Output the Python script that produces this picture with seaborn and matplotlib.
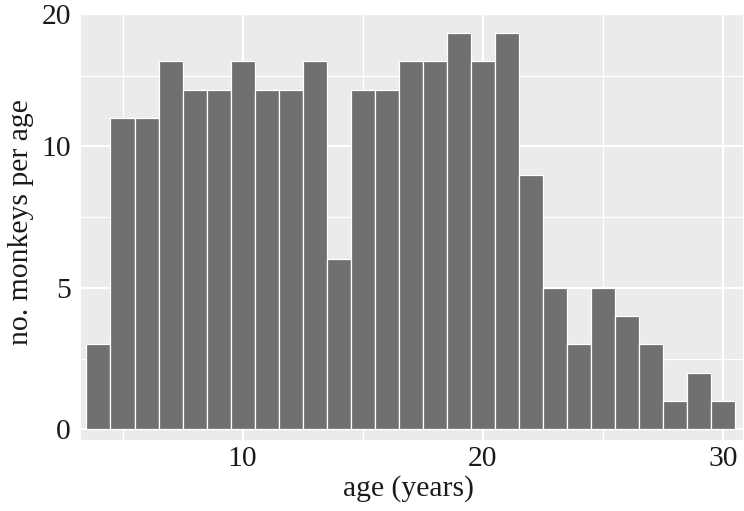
import matplotlib
matplotlib.use("Agg")
import matplotlib.pyplot as plt
import seaborn as sns
import pandas as pd
from matplotlib.ticker import MultipleLocator

# data
ages = [4, 5, 6, 7, 8, 9, 10, 11, 12, 13, 14, 15, 16, 17, 18, 19, 20, 21, 22,
        23, 24, 25, 26, 27, 28, 29, 30]
counts = [3, 11, 11, 13, 12, 12, 13, 12, 12, 13, 6, 12, 12, 13, 13, 14, 13, 14,
          9, 5, 3, 5, 4, 3, 1, 2, 1]
x_ticks = [10, 20, 30]
x_tick_labels = ["10", "20", "30"]
y_ticks = [0, 5, 10, 14.67]
y_tick_labels = ["0", "5", "10", "20"]
x_title = "age (years)"
y_title = "no. monkeys per age"

df = pd.DataFrame({"age": ages, "count": counts})

sns.set_theme(style="darkgrid", rc={
    "axes.facecolor": "#EBEBEB",
    "grid.color": "white",
    "axes.edgecolor": "#EBEBEB",
})
plt.rcParams["font.family"] = ["Liberation Serif", "DejaVu Serif"]

fig = plt.figure(figsize=(7.44, 5.11), dpi=100)
ax = fig.add_axes([80.7 / 744, 1 - 440 / 511, (743 - 80.7) / 744, (440 - 14) / 511])

sns.barplot(data=df, x="age", y="count", native_scale=True, width=1.0,
            color="#707070", saturation=1, edgecolor="white", linewidth=0.9,
            zorder=3, ax=ax)

ax.set_xlim(3.26, 30.82)
ax.set_ylim(-0.38, 14.675)
ax.set_xticks(x_ticks)
ax.set_xticklabels(x_tick_labels)
ax.set_yticks(y_ticks)
ax.set_yticklabels(y_tick_labels)
ax.xaxis.set_minor_locator(MultipleLocator(5))
ax.yaxis.set_minor_locator(MultipleLocator(2.5))
ax.grid(which="major", color="white", linewidth=1.6)
ax.grid(which="minor", color="white", linewidth=0.8)
ax.set_axisbelow(True)
for s in ax.spines.values():
    s.set_visible(False)

ax.tick_params(axis="both", which="both", length=0, labelsize=21.3, colors="#1a1a1a")
ax.tick_params(axis="x", pad=4)
ax.tick_params(axis="y", pad=7)

ax.set_xlabel(x_title, fontsize=21.3, color="#1a1a1a")
ax.set_ylabel(y_title, fontsize=21.3, color="#1a1a1a")
ax.xaxis.set_label_coords(0.5 + (408.5 - (80.7 + 743) / 2) / 662.3, -0.115)
ax.xaxis.label.set_va("center")
ax.yaxis.set_label_coords(-0.0901, 0.5 + ((440 + 14) / 2 - 222) / 426)
ax.yaxis.label.set_va("center")

fig.savefig("out.png", dpi=100)
